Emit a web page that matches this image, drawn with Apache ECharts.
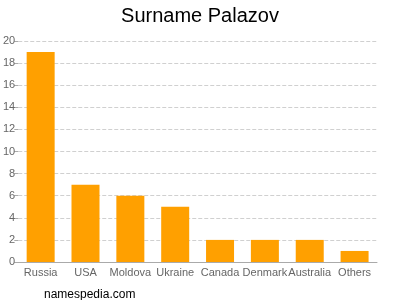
<!DOCTYPE html>
<html><head><meta charset="utf-8">
<script src="https://cdn.jsdelivr.net/npm/echarts@6/dist/echarts.min.js"></script>
<style>html,body{margin:0;padding:0;background:#fff}#c{width:400px;height:300px}</style>
</head><body><div id="c"></div>
<script>
const categories = ["Russia","USA","Moldova","Ukraine","Canada","Denmark","Australia","Others"];
const values = [19,7,6,5,2,2,2,1];
const yMin = 0, yMax = 20, yStep = 2;
const chart = echarts.init(document.getElementById('c'));
chart.setOption({
  animation: false,
  title: [{text: 'Surname Palazov', left: 'center', top: 1,
    textStyle: {fontFamily: 'Liberation Sans, Arial', fontSize: 20, fontWeight: 'normal', color: '#000'}},
    {text: 'namespedia.com', left: 39, top: 284,
    textStyle: {fontFamily: 'Liberation Sans, Arial', fontSize: 12, fontWeight: 'normal', color: '#000'}}],
  grid: {left: 17, right: 23, top: 41, bottom: 38, containLabel: false},
  xAxis: {type: 'category', data: categories,
    axisLine: {lineStyle: {color: '#aaa'}},
    axisTick: {alignWithLabel: true, length: 4, lineStyle: {color: '#aaa'}},
    axisLabel: {color: '#666', fontFamily: 'Liberation Sans, Arial', fontSize: 11, margin: 5, interval: 0}},
  yAxis: {type: 'value', min: yMin, max: yMax, interval: yStep,
    axisLine: {show: false},
    axisTick: {show: true, length: 4, lineStyle: {color: '#aaa'}},
    axisLabel: {color: '#666', fontFamily: 'Liberation Sans, Arial', fontSize: 11, margin: 3},
    splitLine: {lineStyle: {color: '#d0d0d0', type: 'dashed'}}},
  series: [{type: 'bar', data: values, barWidth: 28, itemStyle: {color: '#ffa000'}}]
});
</script></body></html>
